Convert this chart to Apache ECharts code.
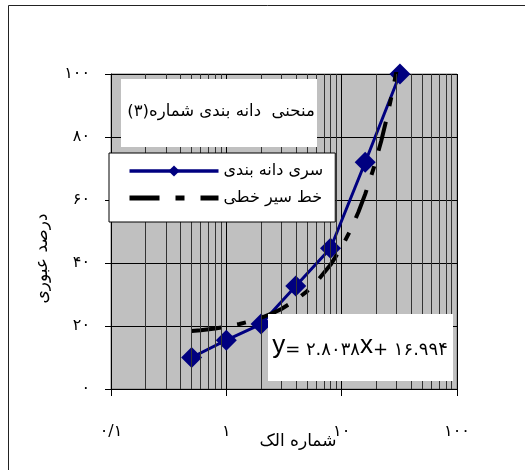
<!DOCTYPE html>
<html>
<head>
<meta charset="utf-8">
<script src="https://cdn.jsdelivr.net/npm/echarts@6/dist/echarts.min.js"></script>
<style>
html,body{margin:0;padding:0;background:#fff;}
#c{width:525px;height:470px;}
</style>
</head>
<body>
<div id="c"></div>
<script>
// ---- data ----
var sieveSizes = [0.5, 1, 2, 4, 8, 16, 32];
var passingPct = [10, 15.5, 20.6, 32.7, 44.7, 72, 100];
var seriesName = 'سری دانه بندی';
var trendName = 'خط سیر خطی';
var trendSlope = 2.8038;
var trendIntercept = 16.994;
var trendX = [0.5, 0.6, 0.8, 1, 1.3, 1.6, 2, 2.5, 3, 4, 5, 6, 8, 10, 12, 14, 16, 19, 22, 25, 28, 32];
var xTickLabels = ['۰/۱', '۱', '۱۰', '۱۰۰'];
var yTickLabels = ['۰', '۲۰', '۴۰', '۶۰', '۸۰', '۱۰۰'];
var minorX = [0.2,0.3,0.4,0.5,0.6,0.7,0.8,0.9,2,3,4,5,6,7,8,9,20,30,40,50,60,70,80,90];
var chartTitle = 'منحنی  دانه بندی شماره(۳)';
var xName = 'شماره الک';
var yName = 'درصد عبوری';
var eqParts = ['y', '= ۲.۸۰۳۸', 'x', '+ ۱۶.۹۹۴'];

var fa = 'DejaVu Sans';
var mainData = sieveSizes.map(function(x, i){ return [x, passingPct[i]]; });
var trendData = trendX.map(function(x){ return [x, trendSlope * x + trendIntercept]; });

var chart = echarts.init(document.getElementById('c'), null, {renderer:'canvas'});
chart.setOption({
  animation: false,
  backgroundColor: '#ffffff',
  grid: {left: 111, top: 74, right: 68, bottom: 81, show: true,
         backgroundColor: '#c0c0c0', borderColor: '#808080', borderWidth: 1},
  xAxis: {
    type: 'log', logBase: 10, min: 0.1, max: 100,
    name: xName, nameLocation: 'middle', nameGap: 44, nameMoveOverlap: false,
    nameTextStyle: {fontFamily: fa, fontSize: 17, color: '#000', padding: [0, 0, 0, 28]},
    axisLine: {show: true, onZero: false, lineStyle: {color: '#000', width: 1}},
    axisTick: {show: true, length: 7, lineStyle: {color: '#000'}},
    axisLabel: {margin: 35, fontFamily: fa, fontSize: 16, color: '#000',
      formatter: function(v, i){ return xTickLabels[i] !== undefined ? xTickLabels[i] : ''; }},
    splitLine: {show: true, lineStyle: {color: '#000', width: 1}},
    minorTick: {show: false}, minorSplitLine: {show: false}
  },
  yAxis: {
    type: 'value', min: 0, max: 100, interval: 20,
    name: yName, nameLocation: 'middle', nameGap: 60, nameRotate: 90, nameMoveOverlap: false,
    nameTextStyle: {fontFamily: fa, fontSize: 17, color: '#000', padding: [0, 54, 0, 0]},
    axisLine: {show: true, lineStyle: {color: '#000', width: 1}},
    axisTick: {show: true, length: 6, lineStyle: {color: '#000'}},
    axisLabel: {margin: 21, fontFamily: fa, fontSize: 16, color: '#000',
      formatter: function(v, i){ return yTickLabels[i] !== undefined ? yTickLabels[i] : ''; }},
    splitLine: {show: true, lineStyle: {color: '#000', width: 1}}
  },
  legend: {
    data: [
      {name: seriesName, lineStyle: {width: 3.5}},
      {name: trendName, itemStyle: {opacity: 0}, lineStyle: {width: 5}}
    ],
    orient: 'vertical', left: 109, top: 153,
    align: 'left',
    backgroundColor: '#ffffff', borderColor: '#000', borderWidth: 1,
    padding: [10, 12, 16, 18],
    itemWidth: 89, itemHeight: 14, itemGap: 11,
    textStyle: {fontFamily: fa, fontSize: 16, color: '#000'},
    z: 10
  },
  series: [
    {
      name: 'minor', type: 'line', data: [], silent: true, z: 1,
      markLine: {silent: true, symbol: ['none', 'none'], label: {show: false},
        lineStyle: {color: '#333', type: 'solid', width: 1}, animation: false,
        data: minorX.map(function(v){ return {xAxis: v}; })}
    },
    {
      name: seriesName, type: 'line', data: mainData, z: 3,
      symbol: 'diamond', symbolSize: 21,
      itemStyle: {color: '#000080'},
      lineStyle: {color: '#000080', width: 3}
    },
    {
      name: trendName, type: 'line', data: trendData, z: 4,
      symbol: 'none', clip: true,
      itemStyle: {color: '#000'},
      lineStyle: {color: '#000', width: 4, type: [30, 16, 9, 16]}
    }
  ],
  graphic: [
    {type: 'rect', z: 100, silent: true, shape: {x: 8.5, y: 5.5, width: 600, height: 600},
     style: {fill: 'none', stroke: '#222', lineWidth: 1}},
    {type: 'rect', z: 20, silent: true, shape: {x: 121, y: 79, width: 196, height: 68},
     style: {fill: '#fff'}},
    {type: 'text', z: 21, silent: true, x: 221, y: 112,
     style: {text: chartTitle, fontFamily: fa, fontSize: 16.5, fill: '#000', align: 'center', verticalAlign: 'middle'}},
    {type: 'rect', z: 20, silent: true, shape: {x: 268, y: 314, width: 185, height: 67},
     style: {fill: '#fff'}},
    {type: 'text', z: 21, silent: true, x: 360, y: 346,
     style: {
       text: '{v|' + eqParts[0] + '}{n|' + eqParts[1] + '}{v|' + eqParts[2] + '}{n|' + eqParts[3] + '}',
       align: 'center', verticalAlign: 'middle',
       rich: {
         v: {fontFamily: 'Liberation Sans', fontSize: 26, fill: '#000', verticalAlign: 'bottom'},
         n: {fontFamily: fa, fontSize: 18, fill: '#000', verticalAlign: 'bottom'}
       }
     }}
  ]
});
</script>
</body>
</html>
